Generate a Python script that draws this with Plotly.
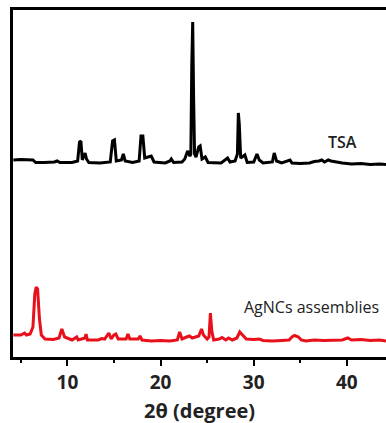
import plotly.graph_objects as go

# TSA pattern (2θ in degrees, intensity in a.u., offset upward)
tsa_2theta = [4.2, 5.0, 6.3, 6.6, 7.5, 8.6, 8.9, 9.2, 10.5, 11.1, 11.3, 11.45, 11.6, 11.8, 11.9, 12.05,
              12.3, 13.5, 14.6, 14.85, 15.05, 15.25, 15.8, 16.0, 16.2, 17.0, 17.7, 17.9, 18.1, 18.3,
              18.6, 19.0, 19.3, 20.5, 21.0, 21.15, 21.4, 22.3, 22.6, 22.9, 23.15, 23.25, 23.35, 23.45,
              23.55, 23.65, 23.8, 24.1, 24.25, 24.45, 24.8, 25.1, 26.5, 27.0, 27.2, 27.45, 28.0, 28.25,
              28.35, 28.45, 28.6, 28.9, 29.05, 29.3, 30.0, 30.35, 30.6, 31.0, 32.0, 32.2, 32.45, 33.0,
              33.9, 34.1, 35.0, 36.0, 36.5, 37.0, 37.3, 37.6, 38.0, 38.3, 38.8, 39.5, 40.5, 41.5, 42.5,
              43.5, 44.2]
tsa_intensity = [199, 199.5, 199, 196.5, 196.5, 197, 198, 196.5, 196.5, 198, 217, 218, 199, 203, 206, 200,
                 196.5, 196, 197, 218, 219, 198, 199, 205, 198, 196.5, 198, 223, 223, 201,
                 202, 203, 197, 196, 198, 200, 196.5, 197, 200, 208, 203, 205, 293, 337,
                 260, 205, 202, 212, 213, 200, 202, 196.5, 196, 199, 201, 197, 198, 205,
                 246, 235, 201, 203, 204, 196.5, 197, 205, 199, 196, 197, 206, 198, 196,
                 199, 196, 195.5, 196, 197.5, 198, 199, 197, 199, 198, 197, 196, 195, 195.5, 194.5,
                 195, 194.5]

# AgNCs assemblies pattern
ag_2theta = [4.2, 5.0, 5.4, 5.6, 6.0, 6.3, 6.5, 6.65, 6.8, 7.0, 7.2, 7.6, 8.5, 9.1, 9.4, 9.7, 10.5,
             11.0, 11.15, 11.9, 12.0, 12.15, 13.3, 13.7, 14.0, 14.3, 14.45, 14.7, 15.0, 15.2, 15.45,
             16.3, 16.5, 16.7, 17.6, 17.8, 18.0, 19.0, 20.0, 21.0, 21.8, 22.05, 22.3, 22.8, 23.1,
             23.4, 23.7, 24.1, 24.4, 24.6, 25.0, 25.2, 25.35, 25.5, 25.7, 26.3, 26.6, 27.0, 27.3,
             27.7, 28.2, 28.5, 28.8, 29.2, 30.0, 30.6, 31.0, 32.0, 33.0, 33.8, 34.1, 34.4, 34.8,
             35.1, 35.6, 36.5, 37.5, 38.5, 39.5, 40.1, 40.5, 41.5, 42.5, 43.5, 44.2]
ag_intensity = [24, 24, 26, 24, 25, 32, 65, 72, 70, 40, 24, 20, 19.5, 21, 30, 22, 19,
                22, 19, 21, 25, 19, 19, 20.5, 20, 25, 26, 20, 24, 25, 20,
                20, 25, 20, 20, 23, 19, 18, 18.5, 18, 19, 27, 20, 22, 23,
                21, 22, 23, 30, 24, 20, 22, 46, 28, 19, 20, 21.5, 19, 21,
                19, 21, 27, 24, 20, 19.5, 20, 18.5, 18, 18.5, 19, 22, 23.5, 22,
                19, 18, 19, 18.5, 19, 19, 21, 19, 19.5, 18.5, 19, 18]

labels = ["TSA", "AgNCs assemblies"]
x_ticks = [10, 20, 30, 40]
x_title = "2θ (degree)"

fig = go.Figure()
fig.add_trace(go.Scatter(x=tsa_2theta, y=tsa_intensity, mode="lines",
                         line=dict(color="black", width=3), name=labels[0], showlegend=False))
fig.add_trace(go.Scatter(x=ag_2theta, y=ag_intensity, mode="lines",
                         line=dict(color="#e8101a", width=3), name=labels[1], showlegend=False))

fig.add_annotation(x=39.5, y=217, text=labels[0], showarrow=False, xref="x", yref="y",
                   font=dict(family="Open Sans", size=16, color="#222222", weight=600))
fig.add_annotation(x=36.2, y=52, text=labels[1], showarrow=False, xref="x", yref="y",
                   font=dict(family="Open Sans", size=16, color="#222222"))
fig.add_annotation(x=0.5, y=-0.153, text=x_title, showarrow=False, xref="paper", yref="paper",
                   yanchor="middle", xanchor="center",
                   font=dict(family="Open Sans", size=20, color="#222222", weight="bold"))

fig.update_layout(
    width=386, height=423,
    margin=dict(l=13, r=0, t=10, b=66, autoexpand=False),
    paper_bgcolor="white", plot_bgcolor="white",
    font=dict(family="Open Sans", color="#222222"),
    xaxis=dict(range=[4.16, 44.2], showline=True, linewidth=3, linecolor="black", mirror=True,
               showgrid=False, zeroline=False, ticks="outside", ticklen=6, tickwidth=2,
               tickcolor="black", tickvals=x_ticks, automargin=False,
               tickfont=dict(family="Open Sans", size=19, color="#222222", weight="bold"),
               minor=dict(tickvals=[5, 15, 25, 35], ticks="outside", ticklen=3, tickwidth=2,
                          tickcolor="black", showgrid=False)),
    yaxis=dict(range=[2, 349], showline=True, linewidth=3, linecolor="black", mirror=False,
               showgrid=False, zeroline=False, showticklabels=False, ticks="", automargin=False),
)

fig.write_html("out.html", config={"displayModeBar": False},
               post_script="document.body.style.margin='0';document.body.style.overflow='hidden';")
